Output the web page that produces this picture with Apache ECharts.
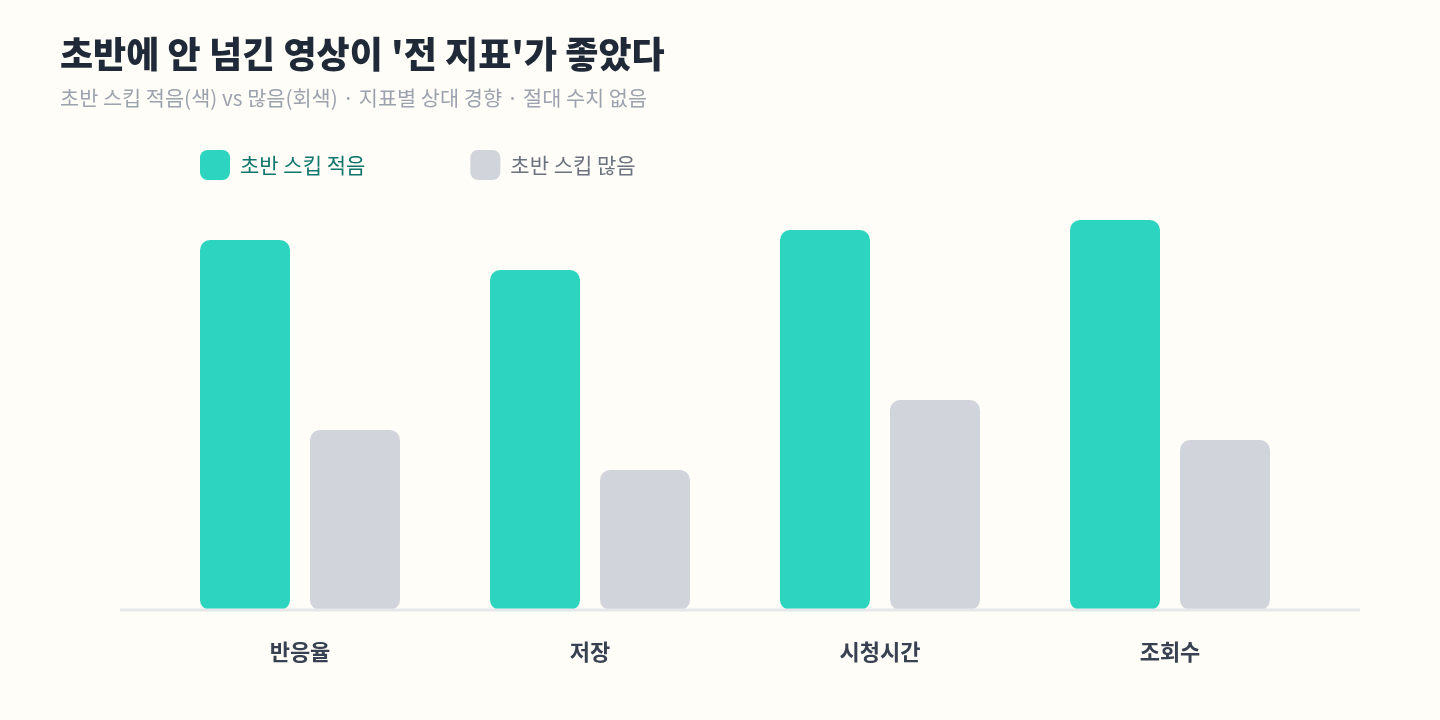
<!DOCTYPE html>
<html><head><meta charset="utf-8">
<script src="https://cdn.jsdelivr.net/npm/echarts@6/dist/echarts.min.js"></script>
<style>html,body{margin:0;padding:0;background:#fffdf7;}#c{width:1440px;height:720px;}</style>
</head><body><div id="c"></div>
<script>
const categories = ['반응율', '저장', '시청시간', '조회수'];
const lowSkip = [37, 34, 38, 39];
const highSkip = [18, 14, 21, 17];
const seriesNames = ['초반 스킵 적음', '초반 스킵 많음'];
const titleText = "초반에 안 넘긴 영상이 '전 지표'가 좋았다";
const subText = '초반 스킵 적음(색) vs 많음(회색) · 지표별 상대 경향 · 절대 수치 없음';
const FONT = "'Noto Sans CJK KR', 'Noto Sans', sans-serif";

const chart = echarts.init(document.getElementById('c'));
chart.setOption({
  backgroundColor: '#fffdf7',
  animation: false,
  title: [
    { text: titleText, left: 60, top: 36, padding: 0, textStyle: { fontFamily: FONT, fontSize: 36, fontWeight: 900, color: '#1f2937' } },
    { text: subText, left: 60, top: 88, padding: 0, textStyle: { fontFamily: FONT, fontSize: 20.8, fontWeight: 'normal', color: '#9ca3af' } }
  ],
  legend: {
    left: 200, top: 150, padding: 0, itemWidth: 30, itemHeight: 30, itemGap: 105, icon: 'roundRect',
    textStyle: { fontFamily: FONT, fontSize: 21, padding: [0, 0, 0, 5] },
    data: [
      { name: seriesNames[0], textStyle: { color: '#0f766e' } },
      { name: seriesNames[1], textStyle: { color: '#6b7280' } }
    ]
  },
  grid: { left: 155, right: 125, top: 210, bottom: 110 },
  xAxis: {
    type: 'category', data: categories,
    axisLine: { show: false }, axisTick: { show: false },
    axisLabel: { margin: 31, fontFamily: FONT, fontSize: 22, fontWeight: 'bold', color: '#374151' }
  },
  yAxis: { type: 'value', min: 0, max: 40, show: false, splitLine: { show: false } },
  series: [
    { name: seriesNames[0], type: 'bar', data: lowSkip, barWidth: 90, barGap: '22.2%',
      itemStyle: { color: '#2dd4bf', borderRadius: 10 } },
    { name: seriesNames[1], type: 'bar', data: highSkip, barWidth: 90,
      itemStyle: { color: '#d1d5db', borderRadius: 10 } }
  ],
  graphic: [
    { type: 'line', z: 100, shape: { x1: 120, y1: 610, x2: 1360, y2: 610 }, style: { stroke: '#e5e7eb', lineWidth: 3 } }
  ]
});
</script></body></html>
